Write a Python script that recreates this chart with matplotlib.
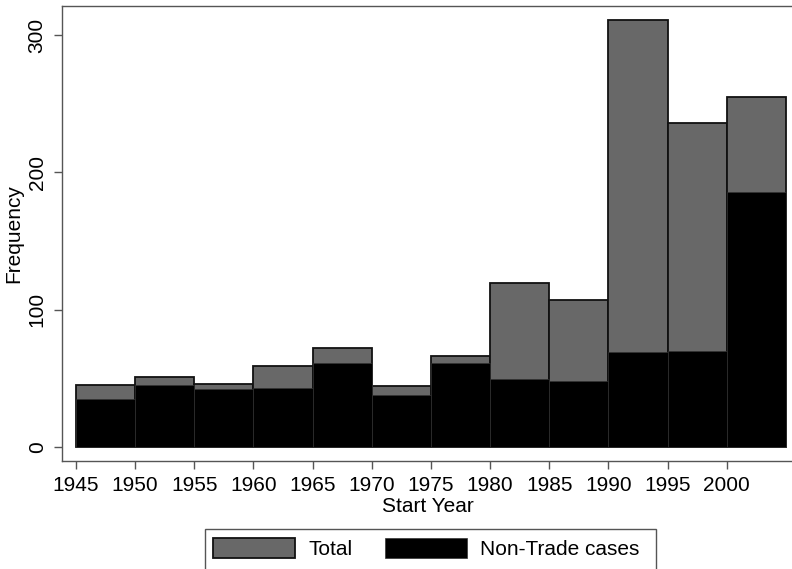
import matplotlib
matplotlib.use("Agg")
import matplotlib.pyplot as plt
from matplotlib.patches import Rectangle
import numpy as np

plt.rcParams['font.family'] = ['Liberation Sans', 'DejaVu Sans']

# bin starts (5-year bins) and counts
bin_start = [1945, 1950, 1955, 1960, 1965, 1970, 1975, 1980, 1985, 1990, 1995, 2000]
total = [45, 51, 46, 59, 72, 44, 66, 119, 107, 311, 236, 255]
non_trade = [35, 45, 42, 43, 61, 38, 61, 49, 48, 69, 70, 186]
xticks = [1945, 1950, 1955, 1960, 1965, 1970, 1975, 1980, 1985, 1990, 1995, 2000]
yticks = [0, 100, 200, 300]

W, H = 792, 569
fs = 15
fig = plt.figure(figsize=(W / 100, H / 100), dpi=100)
ax = fig.add_axes([62 / W, 1 - 460.7 / H, 731 / W, 454.4 / H])

gray = '#686868'
ax.bar(bin_start, total, width=5, align='edge', color=gray,
       edgecolor='#111111', linewidth=1.3, label='Total', zorder=2)
ax.bar(bin_start, non_trade, width=5, align='edge', color='black',
       edgecolor='#333333', linewidth=0.5, label='Non-Trade cases', zorder=3)

ax.set_xlim(1943.82, 2005.6)
ax.set_ylim(-10.2, 321)
ax.set_xticks(xticks)
ax.set_yticks(yticks)
ax.set_yticklabels([str(v) for v in yticks], rotation=90, va='center')

for s in ax.spines.values():
    s.set_color('#555555')
    s.set_linewidth(1.0)
ax.tick_params(axis='both', direction='out', length=6, width=1.0,
               color='#555555', labelsize=fs)
ax.tick_params(axis='x', pad=5)
ax.tick_params(axis='y', pad=5)

ax.set_xlabel('Start Year', fontsize=fs)
ax.set_ylabel('Frequency', fontsize=fs)
ax.xaxis.set_label_coords(0.5, -0.08)
ax.yaxis.set_label_coords(-0.053, 0.5)

# legend without its own frame, box drawn separately (wider on the right)
leg = fig.legend(loc='upper left', bbox_to_anchor=(205 / W, 1 - 529.3 / H),
                 bbox_transform=fig.transFigure, ncol=2, fontsize=fs,
                 frameon=False, borderaxespad=0, borderpad=0.4,
                 handlelength=3.94, handleheight=1.1,
                 handletextpad=0.62, columnspacing=1.57)
fig.patches.append(Rectangle((205 / W, -0.05), 450.7 / W, 0.05 + 1 - 529.3 / H - 0.05 + 0.05,
                             transform=fig.transFigure, fill=False,
                             edgecolor='#555555', linewidth=1.0))

fig.savefig('out.png', dpi=100)
